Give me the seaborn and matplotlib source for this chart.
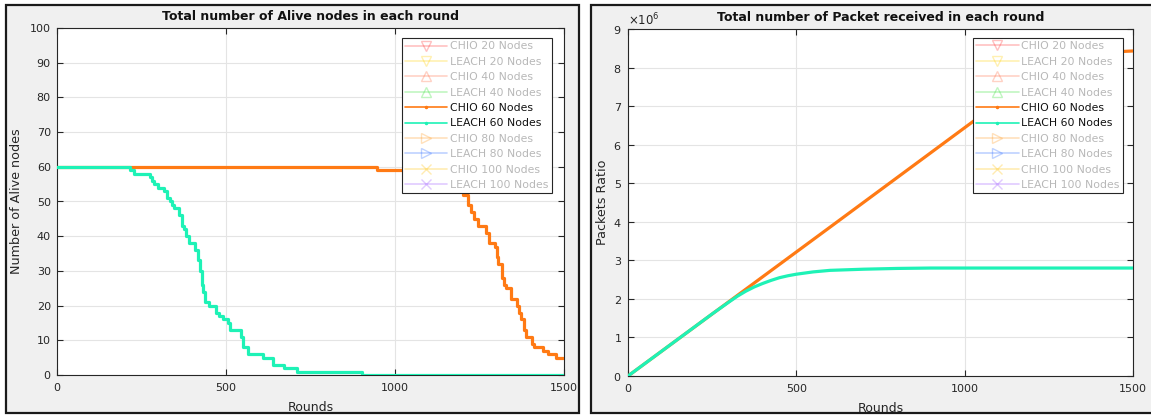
import numpy as np
import pandas as pd
import matplotlib
matplotlib.use("Agg")
import matplotlib.pyplot as plt
from matplotlib.lines import Line2D
from matplotlib.patches import Rectangle
from matplotlib.ticker import ScalarFormatter
import seaborn as sns

# ---------------- data ----------------
# Alive nodes: round at which each value starts (step-post); last entry closes at round 1500
leach60_rounds = [0, 216, 227, 276, 282, 287, 298, 318, 325, 334, 339, 345, 362, 369, 375,
                  383, 391, 408, 416, 422, 430, 433, 437, 451, 471, 479, 490, 506, 512,
                  545, 550, 566, 610, 638, 671, 709, 901, 1500]
leach60_alive = [60, 59, 58, 57, 56, 55, 54, 53, 51, 50, 49, 48, 46, 43, 42,
                 40, 38, 36, 33, 30, 26, 24, 21, 20, 18, 17, 16, 15, 13,
                 11, 8, 6, 5, 3, 2, 1, 0, 0]

chio60_rounds = [0, 948, 1100, 1140, 1160, 1175, 1188, 1196, 1202, 1215, 1224, 1235, 1246, 1268,
                 1279, 1295, 1301, 1306, 1317, 1322, 1328, 1344, 1361, 1366, 1372, 1383,
                 1388, 1405, 1410, 1438, 1452, 1476, 1500]
chio60_alive = [60, 59, 58, 57, 56, 55, 54, 53, 52, 49, 47, 45, 43, 41,
                38, 37, 34, 32, 28, 26, 25, 22, 20, 18, 16, 13,
                11, 9, 8, 7, 6, 5, 5]

# Packets received
chio60_pk_rounds = [0, 300, 600, 1000, 1200, 1250, 1300, 1350, 1400, 1450, 1500]
chio60_packets = [0, 1.93e6, 3.86e6, 6.44e6, 7.73e6, 8.0e6, 8.2e6, 8.31e6, 8.37e6, 8.41e6, 8.43e6]

leach60_pk_rounds = [0, 250, 300, 325, 350, 375, 400, 425, 450, 475, 500, 550, 600,
                     700, 800, 900, 1000, 1500]
leach60_packets = [0, 1.61e6, 1.92e6, 2.07e6, 2.2e6, 2.31e6, 2.40e6, 2.48e6, 2.55e6, 2.60e6,
                   2.64e6, 2.70e6, 2.74e6, 2.77e6, 2.79e6, 2.80e6, 2.80e6, 2.80e6]

legend_labels = ["CHIO 20 Nodes", "LEACH 20 Nodes", "CHIO 40 Nodes", "LEACH 40 Nodes",
                 "CHIO 60 Nodes", "LEACH 60 Nodes", "CHIO 80 Nodes", "LEACH 80 Nodes",
                 "CHIO 100 Nodes", "LEACH 100 Nodes"]
legend_colors = ["#ff3030", "#ffd000", "#ff6a40", "#30e030", "#ff7a14", "#1ef2b6",
                 "#ff9a20", "#2a6aff", "#ffc000", "#9a50ff"]
legend_markers = ["v", "v", "^", "^", ".", ".", ">", ">", "x", "x"]
legend_active = [False, False, False, False, True, True, False, False, False, False]

ORANGE = "#ff7a14"
GREEN = "#1ef2b6"

# ---------------- style ----------------
sns.set_theme(style="white")
plt.rcParams['font.family'] = ['DejaVu Sans']
plt.rcParams['axes.edgecolor'] = '#262626'
plt.rcParams['axes.linewidth'] = 0.8

W, H = 1151, 415
fig = plt.figure(figsize=(W / 100, H / 100), dpi=100)
fig.patch.set_facecolor('white')

def px_rect(x0, y0, x1, y1):
    return [x0 / W, (H - y1) / H, (x1 - x0) / W, (y1 - y0) / H]

# panel frames
for (x0, y0, x1, y1) in [(6, 5, 579, 413), (591, 5, 1153, 413)]:
    l, b, w, h = px_rect(x0, y0, x1, y1)
    fig.patches.append(Rectangle((l, b), w, h, transform=fig.transFigure,
                                 facecolor='#f0f0f0', edgecolor='#1a1a1a', lw=1.6, zorder=-10))

ax1 = fig.add_axes(px_rect(57, 28, 564, 375))
ax2 = fig.add_axes(px_rect(628, 29, 1133, 376))

LW = 2.3
df_l60 = pd.DataFrame({"Rounds": leach60_rounds, "Alive": leach60_alive})
df_c60 = pd.DataFrame({"Rounds": chio60_rounds, "Alive": chio60_alive})
sns.lineplot(data=df_c60, x="Rounds", y="Alive", ax=ax1, color=ORANGE, lw=LW,
             drawstyle="steps-post", estimator=None, sort=False, zorder=3)
sns.lineplot(data=df_l60, x="Rounds", y="Alive", ax=ax1, color=GREEN, lw=LW,
             drawstyle="steps-post", estimator=None, sort=False, zorder=4)

df_pc = pd.DataFrame({"Rounds": chio60_pk_rounds, "Packets": chio60_packets})
df_pl = pd.DataFrame({"Rounds": leach60_pk_rounds, "Packets": leach60_packets})
sns.lineplot(data=df_pc, x="Rounds", y="Packets", ax=ax2, color=ORANGE, lw=LW,
             estimator=None, sort=False, zorder=3)
sns.lineplot(data=df_pl, x="Rounds", y="Packets", ax=ax2, color=GREEN, lw=LW,
             estimator=None, sort=False, zorder=4)

def style_axes(ax, ylim, yticks, title, ylabel, ylab_x):
    ax.set_facecolor('white')
    ax.set_xlim(0, 1500)
    ax.set_ylim(*ylim)
    ax.set_xticks([0, 500, 1000, 1500])
    ax.set_yticks(yticks)
    ax.grid(True, color='#e4e4e4', lw=0.8)
    ax.set_axisbelow(True)
    for s in ax.spines.values():
        s.set_visible(True)
        s.set_color('#262626')
        s.set_linewidth(0.8)
    ax.tick_params(direction='in', length=4, width=0.8, colors='#262626',
                   labelsize=8, top=True, right=True, bottom=True, left=True)
    ax.tick_params(axis='y', pad=4.5)
    ax.tick_params(axis='x', pad=6)
    ax.set_title(title, fontsize=9, fontweight='bold', color='#111111', pad=5.5)
    ax.set_xlabel("Rounds", fontsize=9, color='#262626')
    ax.xaxis.set_label_coords(0.5, -0.074)
    ax.set_ylabel(ylabel, fontsize=9.2, color='#262626')
    ax.yaxis.set_label_coords(ylab_x, 0.5)

style_axes(ax1, (0, 100), list(range(0, 101, 10)),
           "Total number of Alive nodes in each round", "Number of Alive nodes", -0.067)
style_axes(ax2, (0, 9e6), [i * 1e6 for i in range(10)],
           "Total number of Packet received in each round", "Packets Ratio", -0.038)

fmt = ScalarFormatter(useMathText=True)
fmt.set_powerlimits((0, 0))
ax2.yaxis.set_major_formatter(fmt)
ax2.yaxis.get_offset_text().set_fontsize(8.5)
ax2.yaxis.get_offset_text().set_color('#262626')

def add_legend(ax, anchor):
    handles = []
    for lab, c, m, act in zip(legend_labels, legend_colors, legend_markers, legend_active):
        a = 1.0 if act else 0.3
        ms = 3 if m == "." else 6.5
        handles.append(Line2D([0], [0], color=c, marker=m, markersize=ms, lw=1.2, alpha=a,
                              markerfacecolor='none' if m != "." else c, markeredgecolor=c))
    leg = ax.legend(handles, legend_labels, loc='upper right', bbox_to_anchor=anchor,
                    fontsize=7.8, frameon=True, fancybox=False, framealpha=1,
                    edgecolor='#262626', handlelength=3.9, labelspacing=0.5,
                    borderpad=0.3, handletextpad=0.25, borderaxespad=0)
    leg.get_frame().set_linewidth(0.8)
    for t, act in zip(leg.get_texts(), legend_active):
        t.set_color('#111111' if act else '#b8b8b8')
    leg.set_zorder(10)

add_legend(ax1, (0.976, 0.971))
add_legend(ax2, (0.980, 0.974))

fig.savefig("out.png", dpi=100, facecolor=fig.get_facecolor())
